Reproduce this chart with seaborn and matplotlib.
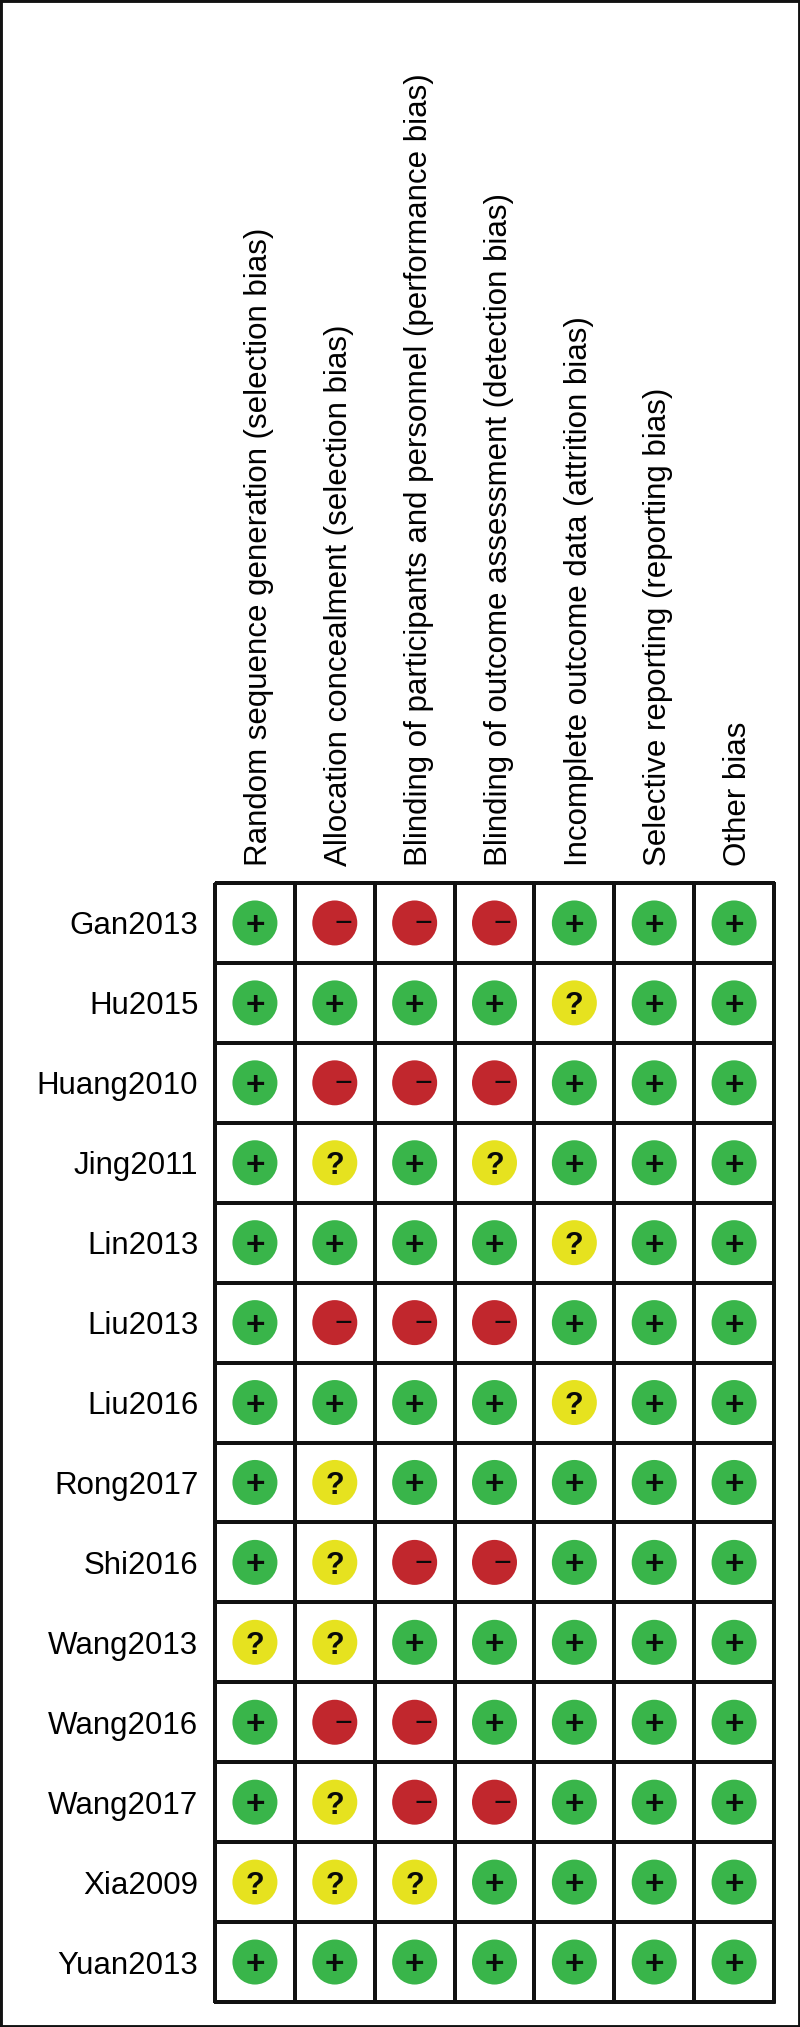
import matplotlib
matplotlib.use("Agg")
import matplotlib.pyplot as plt
from matplotlib.patches import Rectangle
from matplotlib.transforms import ScaledTranslation
import numpy as np
import pandas as pd
import seaborn as sns

studies = ["Gan2013", "Hu2015", "Huang2010", "Jing2011", "Lin2013", "Liu2013", "Liu2016",
           "Rong2017", "Shi2016", "Wang2013", "Wang2016", "Wang2017", "Xia2009", "Yuan2013"]
domains = ["Random sequence generation (selection bias)",
           "Allocation concealment (selection bias)",
           "Blinding of participants and personnel (performance bias)",
           "Blinding of outcome assessment (detection bias)",
           "Incomplete outcome data (attrition bias)",
           "Selective reporting (reporting bias)",
           "Other bias"]

# one string per study, one character per domain
ratings = ["+---+++",
           "++++?++",
           "+---+++",
           "+?+?+++",
           "++++?++",
           "+---+++",
           "++++?++",
           "+?+++++",
           "+?--+++",
           "??+++++",
           "+--++++",
           "+?--+++",
           "???++++",
           "+++++++"]

colors = {"+": "#39b54a", "-": "#c1272d", "?": "#e6e21f"}

W, H = 800, 2027
plt.rcParams["font.family"] = ["Liberation Sans", "DejaVu Sans"]

rows = []
for i, s in enumerate(studies):
    for j, d in enumerate(domains):
        rows.append({"study": s, "domain": d, "rating": ratings[i][j], "x": j + 0.5, "y": i + 0.5})
df = pd.DataFrame(rows)

fig = plt.figure(figsize=(W / 100, H / 100), dpi=100)
fig.add_artist(Rectangle((0, 0), 1, 1, transform=fig.transFigure, fill=False, ec="#111111", lw=3.5))

# grid area in pixels: x 215-774, y 883-2002
ax = fig.add_axes([215 / W, 1 - 2002 / H, 559 / W, 1119 / H])
blank = np.zeros((len(studies), len(domains)))
sns.heatmap(blank, ax=ax, cmap=["white"], cbar=False, linewidths=1.5, linecolor="#111111",
            xticklabels=domains, yticklabels=studies, clip_on=False)
ax.xaxis.tick_top()
ax.tick_params(length=0, top=False, left=False)
ax.tick_params(axis="x", pad=12, labelsize=22.5, labelrotation=90)
ax.tick_params(axis="y", pad=12, labelsize=22.5, labelrotation=0)
# nudge tick labels to sit where the reference has them
for lab in ax.get_xticklabels():
    lab.set_transform(lab.get_transform() + ScaledTranslation(3 / 72, 0, fig.dpi_scale_trans))
for lab in ax.get_yticklabels():
    lab.set_va("center")
    lab.set_transform(lab.get_transform() + ScaledTranslation(0, -2.5 / 72, fig.dpi_scale_trans))
ax.set_xlabel("")
ax.set_ylabel("")
for side in ax.spines.values():
    side.set_visible(True)
    side.set_linewidth(1.8)
    side.set_color("#111111")

sns.scatterplot(data=df, x="x", y="y", hue="rating", palette=colors, s=1050, linewidth=0,
                legend=False, ax=ax, zorder=3, clip_on=False)
ax.set_xlim(0, len(domains))
ax.set_ylim(len(studies), 0)
ax.set_xlabel("")
ax.set_ylabel("")

# symbols inside the circles
for _, r in df.iterrows():
    if r["rating"] == "+":
        ax.annotate("+", (r["x"], r["y"]), ha="center", va="center_baseline", fontsize=24,
                    fontweight="bold", color="#0a0a0a", zorder=4, xytext=(0, 0), textcoords="offset points")
    elif r["rating"] == "?":
        ax.annotate("?", (r["x"], r["y"]), ha="center", va="center_baseline", fontsize=22,
                    fontweight="bold", color="#0a0a0a", zorder=4, xytext=(0, 0), textcoords="offset points")
    else:
        ax.annotate("\u2212", (r["x"], r["y"]), ha="center", va="center_baseline", fontsize=22,
                    color="#0a0a0a", zorder=4, xytext=(6, 1.5), textcoords="offset points")

fig.savefig("out.png", dpi=100)
